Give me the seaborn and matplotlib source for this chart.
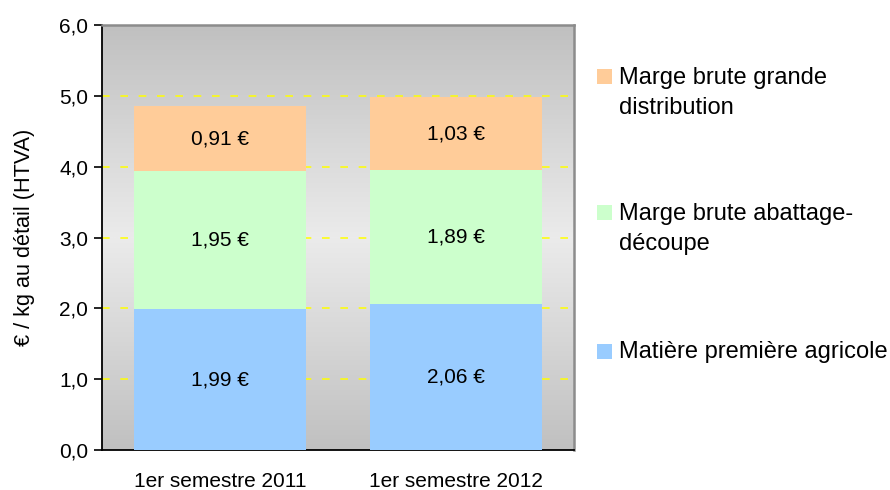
import numpy as np
import pandas as pd
import seaborn as sns
import matplotlib.pyplot as plt
from matplotlib.patches import Rectangle
from matplotlib.colors import LinearSegmentedColormap
from matplotlib.ticker import FuncFormatter

# ---------- data ----------
periods = ["1er semestre 2011", "1er semestre 2012"]
matiere = [1.99, 2.06]
abattage = [1.95, 1.89]
distribution = [0.91, 1.03]

series_names = ["Matière première agricole",
                "Marge brute abattage-\ndécoupe",
                "Marge brute grande\ndistribution"]
series_values = [matiere, abattage, distribution]
series_colors = ["#99ccff", "#ccffcc", "#ffcc99"]

sns.set_style("white")
plt.rcParams["font.family"] = ["Liberation Sans", "DejaVu Sans"]
plt.rcParams["text.color"] = "black"
plt.rcParams["axes.labelcolor"] = "black"
plt.rcParams["xtick.color"] = "black"
plt.rcParams["ytick.color"] = "black"

fig = plt.figure(figsize=(8.9, 4.9), dpi=100)
ax = fig.add_axes([102 / 890, 40 / 490, 472 / 890, 425 / 490])

# gradient background of the plot area
grad = np.abs(np.linspace(-1, 1, 256)).reshape(-1, 1)
ax.imshow(grad, cmap=LinearSegmentedColormap.from_list("bg", ["#ebebeb", "#c0c0c0"]),
          aspect="auto", extent=[0, 1, 0, 1], transform=ax.transAxes, zorder=0)

# ---------- stacked bars ----------
df = pd.DataFrame({"period": periods})
bottom = np.zeros(len(periods))
for name, vals, col in zip(series_names, series_values, series_colors):
    df["v"] = vals
    sns.barplot(data=df, x="period", y="v", color=col, bottom=bottom,
                width=0.725, saturation=1, ax=ax, zorder=3, linewidth=0)
    ax.bar_label(ax.containers[-1],
                 labels=[f"{v:.2f} €".replace(".", ",") for v in vals],
                 label_type="center", fontsize=15, zorder=4)
    bottom = bottom + np.array(vals)

ax.set_xlim(-0.5, 1.5)
ax.set_ylim(0, 6)
ax.set_yticks(np.arange(0, 7, 1))
ax.yaxis.set_major_formatter(FuncFormatter(lambda v, p: f"{v:.1f}".replace(".", ",")))
for y in range(1, 6):
    ax.axhline(y, color="#ffff00", lw=1.1, ls=(0, (5, 7)), zorder=1)

ax.set_xticks([0, 1])
ax.set_xticklabels(periods, fontsize=15)
ax.tick_params(axis="x", length=0, pad=16)
ax.set_xticks([-0.5, 0.5, 1.5], minor=True)
ax.tick_params(axis="x", which="minor", length=6, width=1.2, direction="out")
ax.tick_params(axis="y", length=6, width=1.2, direction="out",
               labelsize=15, pad=4, left=True)
ax.set_xlabel("")
ax.set_ylabel("€ / kg au détail (HTVA)", fontsize=15.6, labelpad=17)

for side in ["left", "bottom"]:
    ax.spines[side].set_color("#000000")
    ax.spines[side].set_linewidth(1.3)
for side in ["top", "right"]:
    ax.spines[side].set_visible(True)
    ax.spines[side].set_color("#8c8c8c")
    ax.spines[side].set_linewidth(1.8)

# ---------- legend (square aligned with first line, as in the source) ----------
entry_y = [351, 213, 77]
for name, col, yc in zip(series_names, series_colors, entry_y):
    fig.patches.append(Rectangle((597 / 890, 1 - (yc + 7.5) / 490), 15 / 890, 15 / 490,
                                 transform=fig.transFigure, facecolor=col,
                                 edgecolor="none"))
    for j, line in enumerate(name.split("\n")):
        fig.text(619 / 890, 1 - (yc + 1 + j * 30) / 490, line, fontsize=17,
                 va="center", ha="left")

fig.savefig("out.png", dpi=100)
